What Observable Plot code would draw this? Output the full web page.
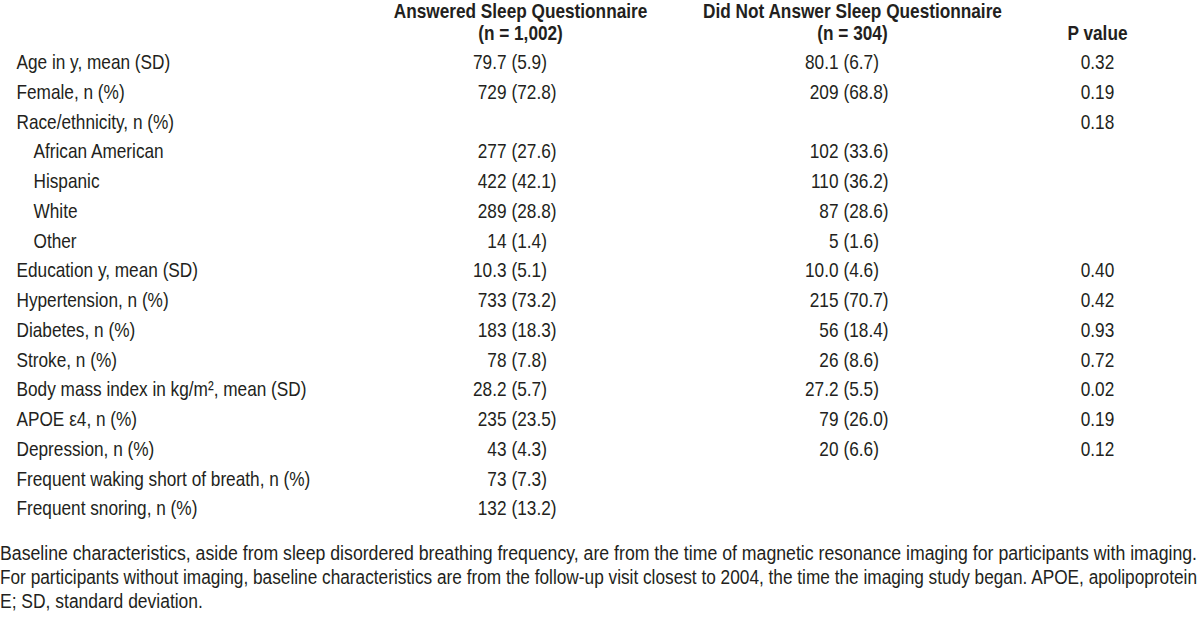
<!DOCTYPE html>
<html><head><meta charset="utf-8">
<script src="https://cdn.jsdelivr.net/npm/d3@7"></script>
<script src="https://cdn.jsdelivr.net/npm/@observablehq/plot@0.6"></script>
<style>
body{margin:0;background:#fff;}
#chart{width:1200px;height:620px;position:relative;overflow:hidden;}
.note{font-family:"Liberation Sans",Arial,sans-serif;font-size:20px;color:#231f20;line-height:24px;width:1200px;margin:0;}
.note div{white-space:nowrap;height:24px;}
.note span{display:inline-block;transform-origin:0 50%;}
</style></head><body><div id="chart"></div>
<script>
// ---- table content ----
const rowLabels = [
  "Age in y, mean (SD)",
  "Female, n (%)",
  "Race/ethnicity, n (%)",
  "African American",
  "Hispanic",
  "White",
  "Other",
  "Education y, mean (SD)",
  "Hypertension, n (%)",
  "Diabetes, n (%)",
  "Stroke, n (%)",
  "Body mass index in kg/m\u00B2, mean (SD)",
  "APOE \u03B54, n (%)",
  "Depression, n (%)",
  "Frequent waking short of breath, n (%)",
  "Frequent snoring, n (%)"
];
const subRows = ["African American", "Hispanic", "White", "Other"];
const answered = ["79.7 (5.9)","729 (72.8)","","277 (27.6)","422 (42.1)","289 (28.8)","14 (1.4)","10.3 (5.1)","733 (73.2)","183 (18.3)","78 (7.8)","28.2 (5.7)","235 (23.5)","43 (4.3)","73 (7.3)","132 (13.2)"];
const notAnswered = ["80.1 (6.7)","209 (68.8)","","102 (33.6)","110 (36.2)","87 (28.6)","5 (1.6)","10.0 (4.6)","215 (70.7)","56 (18.4)","26 (8.6)","27.2 (5.5)","79 (26.0)","20 (6.6)","",""];
const pValues = ["0.32","0.19","0.18","","","","","0.40","0.42","0.93","0.72","0.02","0.19","0.12","",""];
const columnKeys = ["ans", "not", "p"];
const headerLine1 = ["Answered Sleep Questionnaire", "Did Not Answer Sleep Questionnaire", ""];
const headerLine2 = ["(n = 1,002)", "(n = 304)", "P value"];
const footnoteLines = [
  "Baseline characteristics, aside from sleep disordered breathing frequency, are from the time of magnetic resonance imaging for participants with imaging.",
  "For participants without imaging, baseline characteristics are from the follow-up visit closest to 2004, the time the imaging study began. APOE, apolipoprotein",
  "E; SD, standard deviation."
];

// ---- layout (column centres in px, row index scale) ----
const colPos = {label: 16, ans: 520, not: 852, p: 1097};
const FONT = '"Liberation Sans",Arial,sans-serif';
const INK = "#231f20";
const NARROW = 0.82; // Helvetica/Arial Narrow width ratio

const rows = rowLabels.map((label, i) => ({i, label, sub: subRows.includes(label)}));
const cells = [];
rowLabels.forEach((_, i) => {
  [["ans", answered[i]], ["not", notAnswered[i]]].forEach(([col, v]) => {
    if (!v) return;
    const k = v.indexOf(" (");
    cells.push({i, col, main: v.slice(0, k), paren: v.slice(k + 1)});
  });
});
const pCells = pValues.map((p, i) => ({i, col: "p", p})).filter(d => d.p);
const headers = columnKeys.map((col, j) => ({col, l1: headerLine1[j], l2: headerLine2[j]}));

const X = d => colPos[d.col];

const plot = Plot.plot({
  width: 1200,
  height: 541,
  margin: 0,
  style: {fontFamily: FONT, color: INK, background: "#fff", overflow: "visible"},
  x: {type: "linear", domain: [0, 1200], range: [0, 1200], axis: null},
  y: {type: "linear", domain: [0, 15], range: [62, 508], axis: null},
  marks: [
    // header lines
    Plot.text(headers.filter(d => d.l1), {x: X, y: () => -1, dy: -21.5, text: "l1", fontSize: 21, fontWeight: "bold", fill: INK, textAnchor: "middle"}),
    Plot.text(headers, {x: X, y: () => -1, text: "l2", fontSize: 21, fontWeight: "bold", fill: INK, textAnchor: "middle"}),
    // row labels
    Plot.text(rows.filter(d => !d.sub), {x: () => colPos.label, y: "i", text: "label", fontSize: 21, fill: INK, textAnchor: "start"}),
    Plot.text(rows.filter(d => d.sub), {x: () => colPos.label, y: "i", text: "label", dx: 17, fontSize: 21, fill: INK, textAnchor: "start"}),
    // values aligned on the opening parenthesis
    Plot.text(cells, {x: X, y: "i", text: "main", dx: -14, fontSize: 21, fill: INK, textAnchor: "end"}),
    Plot.text(cells, {x: X, y: "i", text: "paren", dx: -9, fontSize: 21, fill: INK, textAnchor: "start"}),
    // p values
    Plot.text(pCells, {x: X, y: "i", text: "p", fontSize: 21, fill: INK, textAnchor: "middle"})
  ]
});

const chart = document.getElementById("chart");
chart.appendChild(plot);

// condense every text to narrow proportions
plot.querySelectorAll("text").forEach(el => {
  const w = el.getComputedTextLength();
  if (w > 0) {
    el.setAttribute("textLength", (w * NARROW).toFixed(2));
    el.setAttribute("lengthAdjust", "spacingAndGlyphs");
  }
});

const note = document.createElement("div");
note.className = "note";
chart.appendChild(note);
const spans = footnoteLines.map(t => {
  const d = document.createElement("div");
  const s = document.createElement("span");
  s.textContent = t;
  d.appendChild(s);
  note.appendChild(d);
  return s;
});
const target = 1197;
const k0 = target / spans[0].getBoundingClientRect().width;
const k1 = target / spans[1].getBoundingClientRect().width;
spans[0].style.transform = `scaleX(${k0})`;
spans[1].style.transform = `scaleX(${k1})`;
spans[2].style.transform = `scaleX(${(k0 + k1) / 2})`;
</script>
</body></html>
